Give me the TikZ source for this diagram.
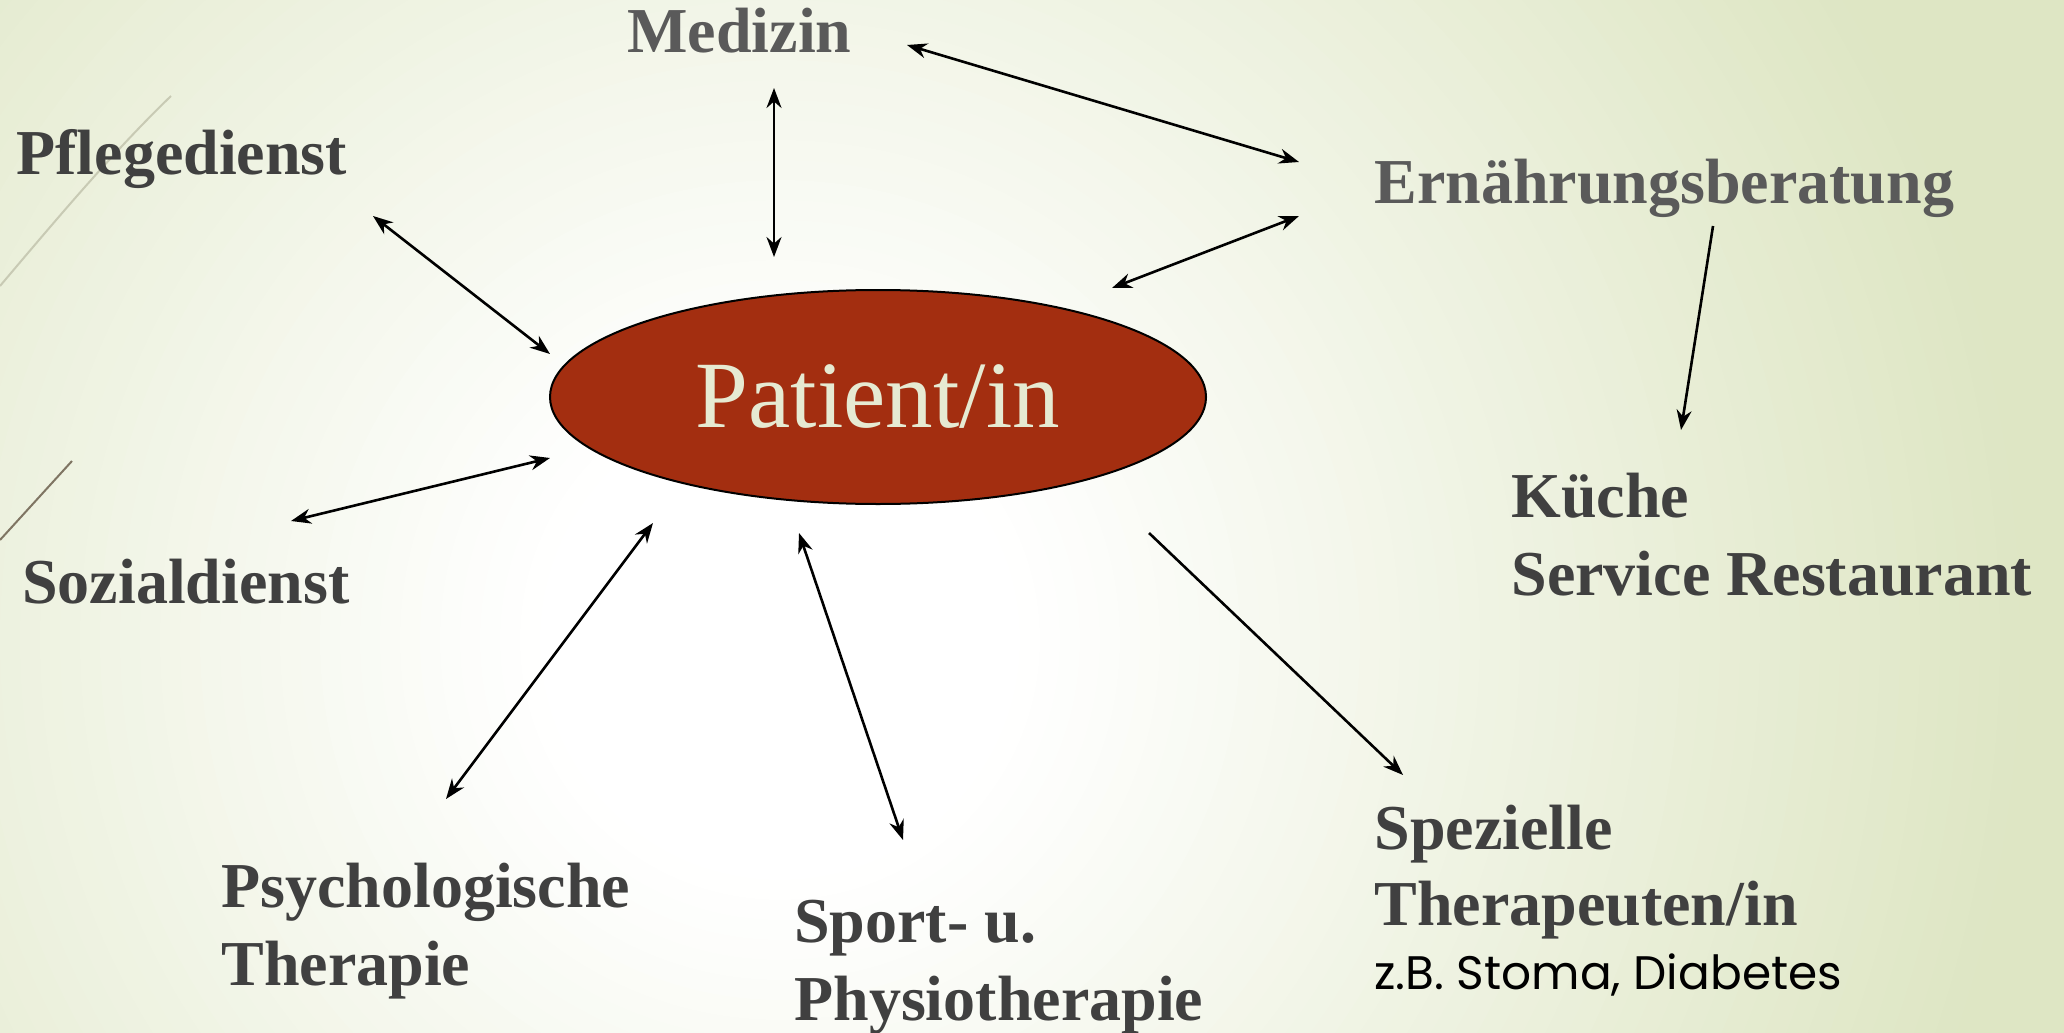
\documentclass[tikz,border=0pt]{standalone}
\usepackage{fontspec}
\setmainfont{Liberation Serif}
\newfontfamily\gothicfont{Poppins}
\usetikzlibrary{arrows.meta,shapes.geometric}
\definecolor{bggreen}{HTML}{DEE6C4}
\definecolor{txtdark}{HTML}{404040}
\definecolor{txtgray}{HTML}{5A5A5A}
\definecolor{patred}{HTML}{A32E10}
\definecolor{patcream}{HTML}{E6EAD2}
\begin{document}
\begin{tikzpicture}[x=0.5pt,y=-0.5pt,
  lbl/.style={anchor=base west,inner sep=0pt,font=\fontsize{32}{39}\selectfont\bfseries,text=txtdark},
  lblgray/.style={lbl,text=txtgray},
  conn/.style={line width=1.3pt,{Stealth[length=10pt,width=7.5pt]}-{Stealth[length=10pt,width=7.5pt]}},
  oneway/.style={line width=1.3pt,-{Stealth[length=10pt,width=7.5pt]}}]
\useasboundingbox (0,0) rectangle (2064,1032);
\begin{scope}
\clip (0,0) rectangle (2064,1032);
\fill[bggreen] (0,0) rectangle (2064,1032);
\foreach \r in {1500,1480,...,20}{
  \pgfmathsetmacro\p{max(0,min(100,(\r-250)/10))}
  \fill[bggreen!\p!white] (780,640) circle (\r);
}
\end{scope}
% decorative theme lines
\draw[color={rgb,255:red,200;green,202;blue,180},line width=1pt] (0,286) .. controls (60,215) and (115,150) .. (171,96);
\draw[color={rgb,255:red,127;green,117;blue,99},line width=1pt] (0,540) -- (72,461);
% patient ellipse
\node[ellipse,draw=black,line width=1pt,fill=patred,minimum width=328pt,minimum height=107pt,inner sep=0pt,
  text=patcream,font=\fontsize{47.5}{50}\selectfont] (pat) at (878,397) {Patient/in};
% labels
\node[lblgray] (med) at (627,53) {Medizin};
\node[lbl] (pfl) at (16,175) {Pflegedienst};
\node[lblgray] (ern) at (1374,204) {Ernährungsberatung};
\node[lbl] (kue) at (1511,517) {Küche};
\node[lbl] (ser) at (1511,595) {Service Restaurant};
\node[lbl] (soz) at (22,603) {Sozialdienst};
\node[lbl] (psy) at (221,907) {Psychologische};
\node[lbl] (psyb) at (221,985) {Therapie};
\node[lbl] (spo) at (794,942) {Sport- u.};
\node[lbl] (spob) at (794,1020) {Physiotherapie};
\node[lbl] (spe) at (1374,849) {Spezielle};
\node[lbl] (speb) at (1374,925) {Therapeuten/in};
\node[anchor=base west,inner sep=0pt,font=\gothicfont\fontsize{23.5}{28}\selectfont,text=black] (spec) at (1374,989) {z.B. Stoma, Diabetes};
% connector end points
\coordinate (a1) at (774,88);  \coordinate (a2) at (774,257);
\coordinate (b1) at (907,45);  \coordinate (b2) at (1299,162);
\coordinate (c1) at (1299,216); \coordinate (c2) at (1112,288);
\coordinate (d1) at (373,216); \coordinate (d2) at (550,354);
\coordinate (e1) at (291,521); \coordinate (e2) at (550,458);
\coordinate (f1) at (446,799); \coordinate (f2) at (653,523);
\coordinate (g1) at (799,533); \coordinate (g2) at (903,840);
\coordinate (h1) at (1149,533); \coordinate (h2) at (1403,775);
\coordinate (i1) at (1713,226); \coordinate (i2) at (1681,430);
\draw[conn] (a1) -- (a2);
\draw[conn] (b1) -- (b2);
\draw[conn] (c1) -- (c2);
\draw[conn] (d1) -- (d2);
\draw[conn] (e1) -- (e2);
\draw[conn] (f1) -- (f2);
\draw[conn] (g1) -- (g2);
\draw[oneway] (h1) -- (h2);
\draw[oneway] (i1) -- (i2);
\end{tikzpicture}
\end{document}
